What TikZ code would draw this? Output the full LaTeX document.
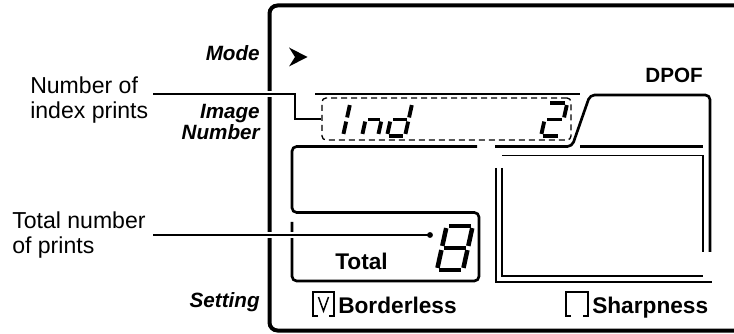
\documentclass[tikz,border=0pt]{standalone}
\usepackage{fontspec}
\setmainfont{Liberation Sans}
\usepackage{tikz}
\usetikzlibrary{positioning}

% one slanted seven-segment cell: [seg width]{x}{y}{w}{h}{segments}
\newcommand{\lcdchar}[6][2.9pt]{%
  \begin{scope}[shift={(#2,#3)}, xslant=0.22]
    \coordinate (TL) at (0,-#5);
    \coordinate (TR) at (#4,-#5);
    \coordinate (ML) at (0,-#5/2);
    \coordinate (MR) at (#4,-#5/2);
    \coordinate (BL) at (0,0);
    \coordinate (BR) at (#4,0);
    \foreach \p/\q in {#6} \draw[lcdseg, line width=#1] (\p) -- (\q);
  \end{scope}}

\begin{document}
\begin{tikzpicture}[
    x=0.75pt, y=-0.75pt,
    frame/.style={line width=3pt, rounded corners=6pt},
    lcdline/.style={line width=2pt, rounded corners=3.5pt},
    thinline/.style={line width=1.1pt},
    lcdseg/.style={shorten <=1.6pt, shorten >=1.6pt},
    leader/.style={line width=0.9pt, preaction={draw=white, line width=4.5pt, shorten >=8pt}},
    lbl/.style={inner sep=0pt, align=left, font=\fontsize{17.3}{18.5}\selectfont},
    side/.style={inner sep=0pt, align=right, font=\fontsize{15.5}{12.75}\selectfont\bfseries\itshape},
    lcdtext/.style={inner sep=0pt, font=\fontsize{17}{18}\selectfont\bfseries}
]
\useasboundingbox (0,0) rectangle (734,334);

% case
\draw[frame] (740,5.5) -- (269.5,5.5) -- (269.5,330.5) -- (740,330.5);

% captions left of the display
\node[side, anchor=base east] (modelabel) at (260,61) {Mode};
\node[side, anchor=north east] (imglabel) at (260,104.5) {Image\\Number};
\node[side, anchor=base east] (setlabel) at (260,307) {Setting};

\fill (289,47.5) -- (307.5,57) -- (289,66.5) -- (295,57) -- cycle;

% image number field
\draw[lcdline] (315,94) -- (580,94);
\node[draw, dashed, dash pattern=on 4.5pt off 3pt, line width=1pt, rounded corners=3pt,
      inner sep=0pt, minimum width=186.75pt, minimum height=31.5pt] (inddisp) at (446.5,119) {};
\lcdchar{343}{136}{0}{33}{TL/ML, ML/BL}
\lcdchar{362}{136}{16}{33}{ML/MR, MR/BR, ML/BL}
\lcdchar{387}{136}{18}{33}{TR/MR, MR/BR, BL/BR, ML/BL, ML/MR}
\lcdchar{541}{136}{19}{33}{TL/TR, TR/MR, ML/MR, ML/BL, BL/BR}

% DPOF panel
\node[lcdtext, font=\fontsize{15.5}{18}\selectfont\bfseries, anchor=base east] (dpoflabel) at (703,83) {DPOF};
\draw[lcdline] (495,146.5) -- (572,146.5) -- (590,95) -- (710,95) -- (710,252);
\draw[lcdline] (580,146.5) -- (703,146.5);
\draw[thinline] (502,155.5) -- (703,155.5) -- (703,252);
\draw[thinline] (502,168) -- (502,276) -- (703,276);
\draw[lcdline, sharp corners] (496,168) -- (496,282) -- (712,282);

% total field
\draw[lcdline] (477,146.5) -- (292,146.5) -- (292,212.5) -- (479,212.5) -- (479,281) -- (292,281) -- (292,222);
\node[lcdtext, anchor=base west] (totaltext) at (335,270) {Total};
\lcdchar[3.4pt]{437}{270}{26}{44}{TL/TR, TR/MR, MR/BR, BL/BR, ML/BL, TL/ML, ML/MR}

% settings
\draw[thinline] (318,316) -- (313,316) -- (313,292) -- (334,292) -- (334,316) -- (329,316);
\draw[thinline] (318.5,297) -- (323.5,311) -- (328.5,297);
\node[lcdtext, anchor=base west] (bordtext) at (338,313) {Borderless};
\draw[thinline] (571,316) -- (566,316) -- (566,292) -- (588,292) -- (588,316) -- (583,316);
\node[lcdtext, anchor=base west] (sharptext) at (592,313) {Sharpness};

% callouts
\node[lbl, anchor=north west] (idxlabel) at (30,77) {Number of\\index prints};
\node[lbl, anchor=north west] (totlabel) at (12,212) {Total number\\of prints};
\coordinate (idxfoot) at (153,94);
\coordinate (totfoot) at (153,235);
\coordinate (totdot) at (430,235);
\draw[leader] (idxfoot) -- ++(142,0) |- (inddisp.west);
\draw[leader] (totfoot) -- (totdot);
\fill (totdot) circle (2.2pt);
\end{tikzpicture}
\end{document}
